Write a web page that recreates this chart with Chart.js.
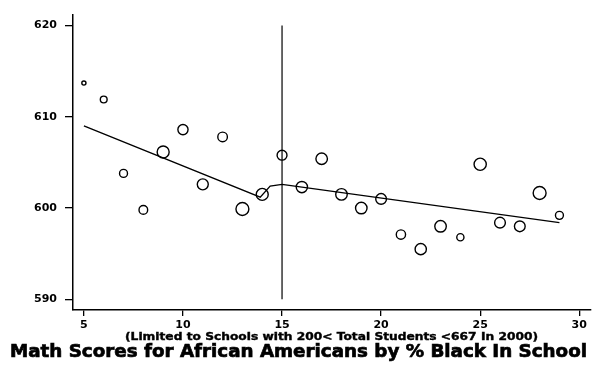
<!DOCTYPE html>
<html>
<head>
<meta charset="utf-8">
<script src="https://cdn.jsdelivr.net/npm/chart.js@4"></script>
<style>
  html, body { margin: 0; padding: 0; background: #fff; }
  #wrap { width: 599px; height: 365px; }
</style>
</head>
<body>
<div id="wrap"><canvas id="c" width="599" height="365"></canvas></div>
<script>
// ---- data ----
const pctBlack = [5, 6, 7, 8, 9, 10, 11, 12, 13, 14, 15, 16, 17, 18, 19, 20, 21, 22, 23, 24, 25, 26, 27, 28, 29];
const mathScores = [613.7, 611.9, 603.8, 599.8, 606.15, 608.6, 602.6, 607.8, 599.9, 601.5, 605.8, 602.3, 605.4, 601.5, 600.0, 601.0, 597.1, 595.5, 598.0, 596.8, 604.8, 598.4, 598.0, 601.65, 599.2];
const schoolCounts = [3, 8, 11, 13, 25, 18, 21, 16, 29, 25, 17, 22, 23, 23, 23, 20, 15, 22, 23, 9, 26, 20, 20, 29, 11];
const fitX = [5, 13.9, 14.4, 15, 29];
const fitY = [609.0, 601.2, 602.4, 602.6, 598.4];
const cutoffX = 15;
const cutoffRange = [590, 620];
const xTicks = [5, 10, 15, 20, 25, 30];
const yTicks = [590, 600, 610, 620];
const subtitleText = "(Limited to Schools with 200< Total Students <667 In 2000)";
const titleText = "Math Scores for African Americans by % Black In School";

// ---- build datasets ----
const bubbleData = pctBlack.map((x, i) => ({ x: x, y: mathScores[i], r: 1.2 * Math.sqrt(schoolCounts[i]) }));
const fitData = fitX.map((x, i) => ({ x: x, y: fitY[i] }));
const cutoffData = cutoffRange.map(y => ({ x: cutoffX, y: y }));

const FONT = "'DejaVu Sans', 'Liberation Sans', sans-serif";

function drawFitted(ctx, text, cx, baseline, width, font, stroke) {
  ctx.save();
  ctx.font = font;
  const w = ctx.measureText(text).width;
  const sx = width / w;
  ctx.translate(cx, baseline);
  ctx.scale(sx, 1);
  ctx.textAlign = 'center';
  ctx.textBaseline = 'alphabetic';
  ctx.fillStyle = '#000';
  ctx.strokeStyle = '#000';
  ctx.lineWidth = stroke;
  ctx.fillText(text, 0, 0);
  ctx.strokeText(text, 0, 0);
  ctx.restore();
}

const titlePlugin = {
  id: 'bottomTitles',
  afterDraw(chart) {
    const ctx = chart.ctx;
    drawFitted(ctx, subtitleText, 331.5, 339.5, 413, "bold 10.5px " + FONT, 0.4);
    drawFitted(ctx, titleText, 298.5, 357, 577, "bold 18px " + FONT, 0.7);
  }
};

new Chart(document.getElementById('c'), {
  type: 'bubble',
  data: {
    datasets: [
      {
        type: 'line',
        data: cutoffData,
        borderColor: '#000',
        borderWidth: 1.2,
        pointRadius: 0,
        fill: false
      },
      {
        type: 'line',
        data: fitData,
        borderColor: '#000',
        borderWidth: 1.3,
        pointRadius: 0,
        tension: 0,
        fill: false
      },
      {
        type: 'bubble',
        data: bubbleData,
        borderColor: '#000',
        borderWidth: 1.4,
        backgroundColor: 'rgba(0,0,0,0)'
      }
    ]
  },
  options: {
    responsive: false,
    animation: false,
    events: [],
    layout: { padding: { top: 5, right: 3, left: 0, bottom: 0 } },
    plugins: {
      legend: { display: false },
      tooltip: { enabled: false },
      title: { display: false }
    },
    scales: {
      x: {
        type: 'linear',
        min: 4.45,
        max: 30.6,
        afterBuildTicks(scale) { scale.ticks = xTicks.map(v => ({ value: v })); },
        afterFit(scale) { scale.height = 55; },
        border: { display: true, color: '#000', width: 1.5 },
        grid: { drawOnChartArea: false, drawTicks: true, tickLength: 6, color: '#000', lineWidth: 1.3 },
        ticks: { color: '#000', padding: 3, font: { family: FONT, size: 11, weight: 'bold' }, maxRotation: 0 }
      },
      y: {
        type: 'linear',
        min: 588.83,
        max: 621.2,
        afterBuildTicks(scale) { scale.ticks = yTicks.map(v => ({ value: v })); },
        afterFit(scale) { scale.width = 73; },
        border: { display: true, color: '#000', width: 1.5 },
        grid: { drawOnChartArea: false, drawTicks: true, tickLength: 8, color: '#000', lineWidth: 1.3 },
        ticks: { color: '#000', padding: 8, font: { family: FONT, size: 11, weight: 'bold' } }
      }
    }
  },
  plugins: [titlePlugin]
});
</script>
</body>
</html>
